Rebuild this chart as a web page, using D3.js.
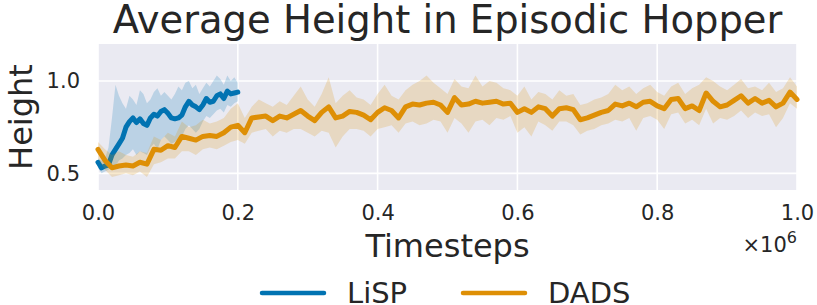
<!DOCTYPE html>
<html>
<head>
<meta charset="utf-8">
<script src="https://cdn.jsdelivr.net/npm/d3@7"></script>
<style>
  body { margin: 0; background: #fff; }
  svg { font-family: "DejaVu Sans", sans-serif; }
</style>
</head>
<body>
<div id="chart"></div>
<script>
// DADS: every 0.01e6 steps
const dadsMean = [0.63,0.57,0.53,0.54,0.545,0.54,0.56,0.55,0.63,0.625,
  0.65,0.64,0.70,0.69,0.68,0.70,0.705,0.70,0.72,0.75,
  0.76,0.72,0.80,0.805,0.81,0.785,0.81,0.80,0.82,0.84,
  0.81,0.785,0.83,0.86,0.80,0.81,0.835,0.83,0.815,0.79,
  0.83,0.855,0.84,0.80,0.86,0.875,0.87,0.88,0.885,0.87,
  0.83,0.91,0.87,0.875,0.89,0.88,0.885,0.89,0.875,0.88,
  0.83,0.85,0.83,0.86,0.85,0.81,0.85,0.855,0.845,0.79,
  0.80,0.815,0.83,0.84,0.875,0.865,0.88,0.86,0.885,0.89,
  0.865,0.85,0.90,0.905,0.85,0.865,0.84,0.935,0.89,0.86,
  0.87,0.895,0.92,0.88,0.905,0.88,0.895,0.86,0.88,0.94,
  0.90]
const dadsHi = [0.67,0.63,0.60,0.62,0.60,0.59,0.62,0.61,0.70,0.68,
  0.72,0.70,0.78,0.75,0.76,0.79,0.77,0.78,0.80,0.85,
  0.88,0.80,0.86,0.90,0.88,0.86,0.89,0.87,0.92,0.97,
  0.90,0.86,0.93,1.02,0.88,0.92,0.95,0.91,0.90,0.87,
  0.93,0.98,0.92,0.90,0.95,0.98,1.00,1.03,0.99,0.96,
  0.93,1.01,0.97,0.96,1.03,0.97,1.00,0.99,0.96,0.95,
  0.92,0.97,0.90,0.94,0.93,0.90,0.95,0.92,0.93,0.87,
  0.88,0.90,0.91,0.93,0.98,0.95,0.97,0.93,0.96,0.98,
  0.94,0.92,0.97,0.99,0.93,0.96,0.98,1.02,1.00,0.97,
  0.95,0.98,1.01,0.96,0.97,0.95,0.99,0.94,0.96,1.02,
  0.97]
const dadsLo = [0.58,0.52,0.48,0.49,0.50,0.49,0.51,0.48,0.55,0.56,
  0.58,0.58,0.62,0.62,0.60,0.63,0.64,0.63,0.65,0.67,
  0.68,0.66,0.72,0.73,0.74,0.70,0.73,0.72,0.74,0.74,
  0.72,0.70,0.73,0.72,0.64,0.70,0.74,0.74,0.73,0.70,
  0.74,0.75,0.76,0.72,0.77,0.78,0.76,0.77,0.79,0.78,
  0.72,0.80,0.77,0.72,0.78,0.79,0.76,0.80,0.79,0.81,
  0.72,0.75,0.70,0.78,0.76,0.73,0.78,0.78,0.76,0.71,
  0.73,0.74,0.76,0.77,0.79,0.78,0.80,0.73,0.80,0.81,
  0.79,0.74,0.82,0.83,0.77,0.79,0.76,0.85,0.77,0.80,
  0.79,0.81,0.84,0.80,0.83,0.81,0.82,0.75,0.80,0.88,
  0.85]

// LiSP: every 0.005e6 steps, up to 0.2e6
const lispMean = [0.56,0.53,0.54,0.545,0.60,0.63,0.66,0.69,0.75,0.78,
  0.80,0.775,0.795,0.77,0.76,0.80,0.82,0.81,0.835,0.845,
  0.825,0.80,0.795,0.80,0.815,0.86,0.89,0.87,0.86,0.845,
  0.87,0.905,0.885,0.89,0.92,0.93,0.905,0.945,0.93,0.935,
  0.94]
const lispHi = [0.58,0.57,0.58,0.64,0.80,0.98,0.92,0.88,0.85,0.92,
  0.90,0.87,0.95,0.93,0.88,0.90,0.94,0.96,0.92,0.94,
  0.92,0.90,0.93,0.97,0.95,0.99,1.00,0.96,0.98,0.93,
  0.96,0.99,0.97,1.00,1.03,1.01,0.98,1.03,1.00,1.02,
  0.99]
const lispLo = [0.53,0.50,0.51,0.52,0.53,0.54,0.57,0.58,0.60,0.61,
  0.63,0.60,0.62,0.61,0.60,0.64,0.66,0.63,0.68,0.70,
  0.68,0.66,0.67,0.69,0.70,0.74,0.76,0.74,0.72,0.74,
  0.78,0.81,0.80,0.82,0.84,0.85,0.83,0.87,0.86,0.88,
  0.89]

const xTicks = [0, 0.2, 0.4, 0.6, 0.8, 1.0]
const yTicks = [0.5, 1.0]

const series = [
  { name: 'LiSP', color: '#0173b2', step: 0.005, mean: lispMean, lo: lispLo, hi: lispHi },
  { name: 'DADS', color: '#de8f05', step: 0.01, mean: dadsMean, lo: dadsLo, hi: dadsHi }
]

const W = 817, H = 305
const margin = { left: 98, right: 20, top: 44, bottom: 115 }

const svg = d3.select('#chart').append('svg')
  .attr('width', W).attr('height', H)

const x = d3.scaleLinear().domain([0, 1]).range([margin.left, W - margin.right])
const y = d3.scaleLinear().domain([0.41, 1.2]).range([H - margin.bottom, margin.top])

svg.append('rect')
  .attr('x', x(0)).attr('y', y(1.2))
  .attr('width', x(1) - x(0)).attr('height', y(0.41) - y(1.2))
  .attr('fill', '#eaeaf2')

const grid = svg.append('g').attr('stroke', '#fff').attr('stroke-width', 1.6)
grid.selectAll('.gx').data(xTicks).enter().append('line')
  .attr('x1', d => x(d)).attr('x2', d => x(d))
  .attr('y1', y(1.2)).attr('y2', y(0.41))
grid.selectAll('.gy').data(yTicks).enter().append('line')
  .attr('x1', x(0)).attr('x2', x(1))
  .attr('y1', d => y(d)).attr('y2', d => y(d))

const plot = svg.append('g')
series.forEach(s => {
  const pts = s.mean.map((m, i) => ({ t: i * s.step, m: m, lo: s.lo[i], hi: s.hi[i] }))
  plot.append('path').datum(pts)
    .attr('fill', s.color).attr('fill-opacity', 0.2)
    .attr('d', d3.area().x(d => x(d.t)).y0(d => y(d.lo)).y1(d => y(d.hi)))
  plot.append('path').datum(pts)
    .attr('fill', 'none').attr('stroke', s.color).attr('stroke-width', 5)
    .attr('stroke-linejoin', 'round').attr('stroke-linecap', 'round')
    .attr('d', d3.line().x(d => x(d.t)).y(d => y(d.m)))
})

const xAxis = d3.axisBottom(x).tickValues(xTicks).tickSize(0).tickPadding(15)
  .tickFormat(d3.format('.1f'))
svg.append('g').attr('transform', `translate(0,${y(0.41)})`).call(xAxis)
  .call(g => g.select('.domain').remove())
  .selectAll('text').attr('font-size', 21).attr('fill', '#262626')
    .attr('font-family', '"DejaVu Sans", sans-serif')

const yAxis = d3.axisLeft(y).tickValues(yTicks).tickSize(0).tickPadding(18)
  .tickFormat(d3.format('.1f'))
svg.append('g').attr('transform', `translate(${x(0)},0)`).call(yAxis)
  .call(g => g.select('.domain').remove())
  .selectAll('text').attr('font-size', 21).attr('fill', '#262626')
    .attr('font-family', '"DejaVu Sans", sans-serif')

svg.append('text')
  .attr('x', (x(0) + x(1)) / 2).attr('y', 33)
  .attr('text-anchor', 'middle').attr('font-size', 38.5).attr('fill', '#262626')
  .text('Average Height in Episodic Hopper')

svg.append('text')
  .attr('transform', `translate(32,${(y(0.41) + y(1.2)) / 2}) rotate(-90)`)
  .attr('text-anchor', 'middle').attr('font-size', 32).attr('fill', '#262626')
  .text('Height')

svg.append('text')
  .attr('x', (x(0) + x(1)) / 2).attr('y', 257)
  .attr('text-anchor', 'middle').attr('font-size', 32).attr('fill', '#262626')
  .text('Timesteps')

const off = svg.append('text')
  .attr('x', x(1)).attr('y', 252)
  .attr('text-anchor', 'end').attr('font-size', 21).attr('fill', '#262626')
off.append('tspan').text('×10')
off.append('tspan').attr('dy', -9).attr('font-size', 16).text('6')

const legend = svg.append('g')
const legendX = [262, 463]
series.forEach((s, i) => {
  legend.append('line')
    .attr('x1', legendX[i]).attr('x2', legendX[i] + 62)
    .attr('y1', 293).attr('y2', 293)
    .attr('stroke', s.color).attr('stroke-width', 4.5).attr('stroke-linecap', 'round')
  legend.append('text')
    .attr('x', legendX[i] + 85).attr('y', 303)
    .attr('font-size', 29).attr('fill', '#262626')
    .text(s.name)
})
</script>
</body>
</html>
